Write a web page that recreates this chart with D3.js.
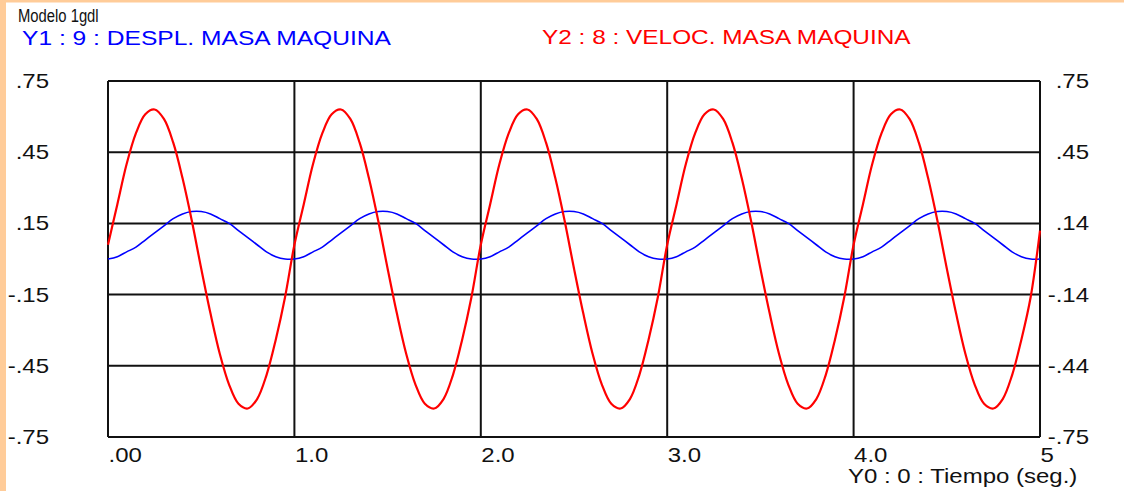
<!DOCTYPE html>
<html>
<head>
<meta charset="utf-8">
<script src="https://cdn.jsdelivr.net/npm/d3@7"></script>
<style>
  body { margin: 0; background: #fff; }
  svg { display: block; font-family: "Liberation Sans", Arial, sans-serif; }
</style>
</head>
<body>
<div class="canvas"></div>
<script>
// dimensions
const w = 1124;
const h = 491;
const plot = { left: 108, right: 1040, top: 81, bottom: 437 };

// texts
const title = "Modelo 1gdl";
const y1Label = "Y1 : 9 : DESPL. MASA MAQUINA";
const y2Label = "Y2 : 8 : VELOC. MASA MAQUINA";
const xLabel = "Y0 : 0 : Tiempo (seg.)";

// tick values and their printed labels
const xTicks = [0, 1, 2, 3, 4, 5];
const xTickLabels = [".00", "1.0", "2.0", "3.0", "4.0", "5"];
const yTicks = [0.75, 0.45, 0.15, -0.15, -0.45, -0.75];
const yLeftLabels = [".75", ".45", ".15", "-.15", "-.45", "-.75"];
const yRightLabels = [".75", ".45", ".14", "-.14", "-.44", "-.75"];

// time samples (s)
const time = [
  0.00, 0.05, 0.10, 0.15, 0.20, 0.25, 0.30, 0.35, 0.40, 0.45, 0.50, 0.55, 0.60, 0.65, 0.70, 0.75, 0.80, 0.85, 0.90, 0.95,
  1.00, 1.05, 1.10, 1.15, 1.20, 1.25, 1.30, 1.35, 1.40, 1.45, 1.50, 1.55, 1.60, 1.65, 1.70, 1.75, 1.80, 1.85, 1.90, 1.95,
  2.00, 2.05, 2.10, 2.15, 2.20, 2.25, 2.30, 2.35, 2.40, 2.45, 2.50, 2.55, 2.60, 2.65, 2.70, 2.75, 2.80, 2.85, 2.90, 2.95,
  3.00, 3.05, 3.10, 3.15, 3.20, 3.25, 3.30, 3.35, 3.40, 3.45, 3.50, 3.55, 3.60, 3.65, 3.70, 3.75, 3.80, 3.85, 3.90, 3.95,
  4.00, 4.05, 4.10, 4.15, 4.20, 4.25, 4.30, 4.35, 4.40, 4.45, 4.50, 4.55, 4.60, 4.65, 4.70, 4.75, 4.80, 4.85, 4.90, 4.95,
  5.00
];

// Y1: displacement (blue)
const despl = [
  0.00, 0.01, 0.03, 0.05, 0.08, 0.11, 0.14, 0.17, 0.19, 0.20, 0.20, 0.19, 0.17, 0.15, 0.12, 0.09, 0.06, 0.03, 0.01, 0.00,
  0.00, 0.01, 0.03, 0.05, 0.08, 0.11, 0.14, 0.17, 0.19, 0.20, 0.20, 0.19, 0.17, 0.15, 0.12, 0.09, 0.06, 0.03, 0.01, 0.00,
  0.00, 0.01, 0.03, 0.05, 0.08, 0.11, 0.14, 0.17, 0.19, 0.20, 0.20, 0.19, 0.17, 0.15, 0.12, 0.09, 0.06, 0.03, 0.01, 0.00,
  0.00, 0.01, 0.03, 0.05, 0.08, 0.11, 0.14, 0.17, 0.19, 0.20, 0.20, 0.19, 0.17, 0.15, 0.12, 0.09, 0.06, 0.03, 0.01, 0.00,
  0.00, 0.01, 0.03, 0.05, 0.08, 0.11, 0.14, 0.17, 0.19, 0.20, 0.20, 0.19, 0.17, 0.15, 0.12, 0.09, 0.06, 0.03, 0.01, 0.00,
  0.00
];

// Y2: velocity (red)
const veloc = [
  0.06, 0.23, 0.40, 0.53, 0.61, 0.63, 0.59, 0.49, 0.34, 0.16, -0.04, -0.23, -0.40, -0.53, -0.61, -0.63, -0.59, -0.49, -0.34, -0.16,
  0.06, 0.23, 0.40, 0.53, 0.61, 0.63, 0.59, 0.49, 0.34, 0.16, -0.04, -0.23, -0.40, -0.53, -0.61, -0.63, -0.59, -0.49, -0.34, -0.16,
  0.06, 0.23, 0.40, 0.53, 0.61, 0.63, 0.59, 0.49, 0.34, 0.16, -0.04, -0.23, -0.40, -0.53, -0.61, -0.63, -0.59, -0.49, -0.34, -0.16,
  0.06, 0.23, 0.40, 0.53, 0.61, 0.63, 0.59, 0.49, 0.34, 0.16, -0.04, -0.23, -0.40, -0.53, -0.61, -0.63, -0.59, -0.49, -0.34, -0.16,
  0.06, 0.23, 0.40, 0.53, 0.61, 0.63, 0.59, 0.49, 0.34, 0.16, -0.04, -0.23, -0.40, -0.53, -0.61, -0.63, -0.59, -0.49, -0.34, -0.16,
  0.12
];

const svg = d3.select(".canvas").append("svg").attr("width", w).attr("height", h);

// peach frame on the left and top edges
svg.append("rect").attr("x", 0).attr("y", 0).attr("width", w).attr("height", h).attr("fill", "#fff");
svg.append("rect").attr("x", 0).attr("y", 0).attr("width", 6).attr("height", h).attr("fill", "#ffcc99");
svg.append("rect").attr("x", 0).attr("y", 0).attr("width", w).attr("height", 2.5).attr("fill", "#ffcc99");

// scales
const xScale = d3.scaleLinear().domain([0, 5]).range([plot.left, plot.right]);
const yScale = d3.scaleLinear().domain([-0.75, 0.75]).range([plot.bottom, plot.top]);

// grid
svg.append("g")
  .selectAll("line")
  .data(xTicks)
  .enter()
  .append("line")
  .attr("x1", d => xScale(d))
  .attr("x2", d => xScale(d))
  .attr("y1", plot.top)
  .attr("y2", plot.bottom)
  .attr("stroke", "#111")
  .attr("stroke-width", 2);

svg.append("g")
  .selectAll("line")
  .data(yTicks)
  .enter()
  .append("line")
  .attr("x1", plot.left)
  .attr("x2", plot.right)
  .attr("y1", d => yScale(d))
  .attr("y2", d => yScale(d))
  .attr("stroke", "#111")
  .attr("stroke-width", 2);

// curves
const line = (ys) => d3.line()
  .x((d, i) => xScale(time[i]))
  .y(d => yScale(d))
  .curve(d3.curveCatmullRom)(ys);

svg.append("path")
  .attr("d", line(despl))
  .attr("fill", "none")
  .attr("stroke", "#0000ff")
  .attr("stroke-width", 1.6);

svg.append("path")
  .attr("d", line(veloc))
  .attr("fill", "none")
  .attr("stroke", "#ff0000")
  .attr("stroke-width", 2.2);

// axes (labels only)
const styleAxis = (g, sx) => {
  g.select(".domain").remove();
  g.selectAll("text")
    .attr("font-size", 20)
    .attr("font-family", "Liberation Sans, Arial, sans-serif")
    .attr("fill", "#111")
    .attr("transform", `scale(${sx},1)`);
};

svg.append("g")
  .attr("transform", "translate(49,0)")
  .call(d3.axisLeft(yScale).tickValues(yTicks).tickSize(0).tickPadding(0)
    .tickFormat((d, i) => yLeftLabels[i]))
  .call(g => styleAxis(g, 1.2));

svg.append("g")
  .attr("transform", "translate(1089,0)")
  .call(d3.axisLeft(yScale).tickValues(yTicks).tickSize(0).tickPadding(0)
    .tickFormat((d, i) => yRightLabels[i]))
  .call(g => styleAxis(g, 1.2));

svg.append("g")
  .attr("transform", `translate(0,${plot.bottom})`)
  .call(d3.axisBottom(xScale).tickValues(xTicks).tickSize(0).tickPadding(11)
    .tickFormat((d, i) => xTickLabels[i]))
  .call(g => {
    styleAxis(g, 1.2);
    g.selectAll("text").attr("text-anchor", "start");
  });

// header texts, stretched or squeezed horizontally to the reference widths
const addText = (t, x, y, sx, size, color) => svg.append("text")
  .attr("transform", `translate(${x},${y}) scale(${sx},1)`)
  .attr("font-size", size)
  .attr("fill", color)
  .text(t);

addText(title, 18, 22, 0.78, 19, "#111");
addText(y1Label, 22, 45, 1.23, 20, "#0000ff");
addText(y2Label, 542, 44, 1.22, 20, "#ff0000");
addText(xLabel, 848, 483, 1.2, 20, "#111");
</script>
</body>
</html>
